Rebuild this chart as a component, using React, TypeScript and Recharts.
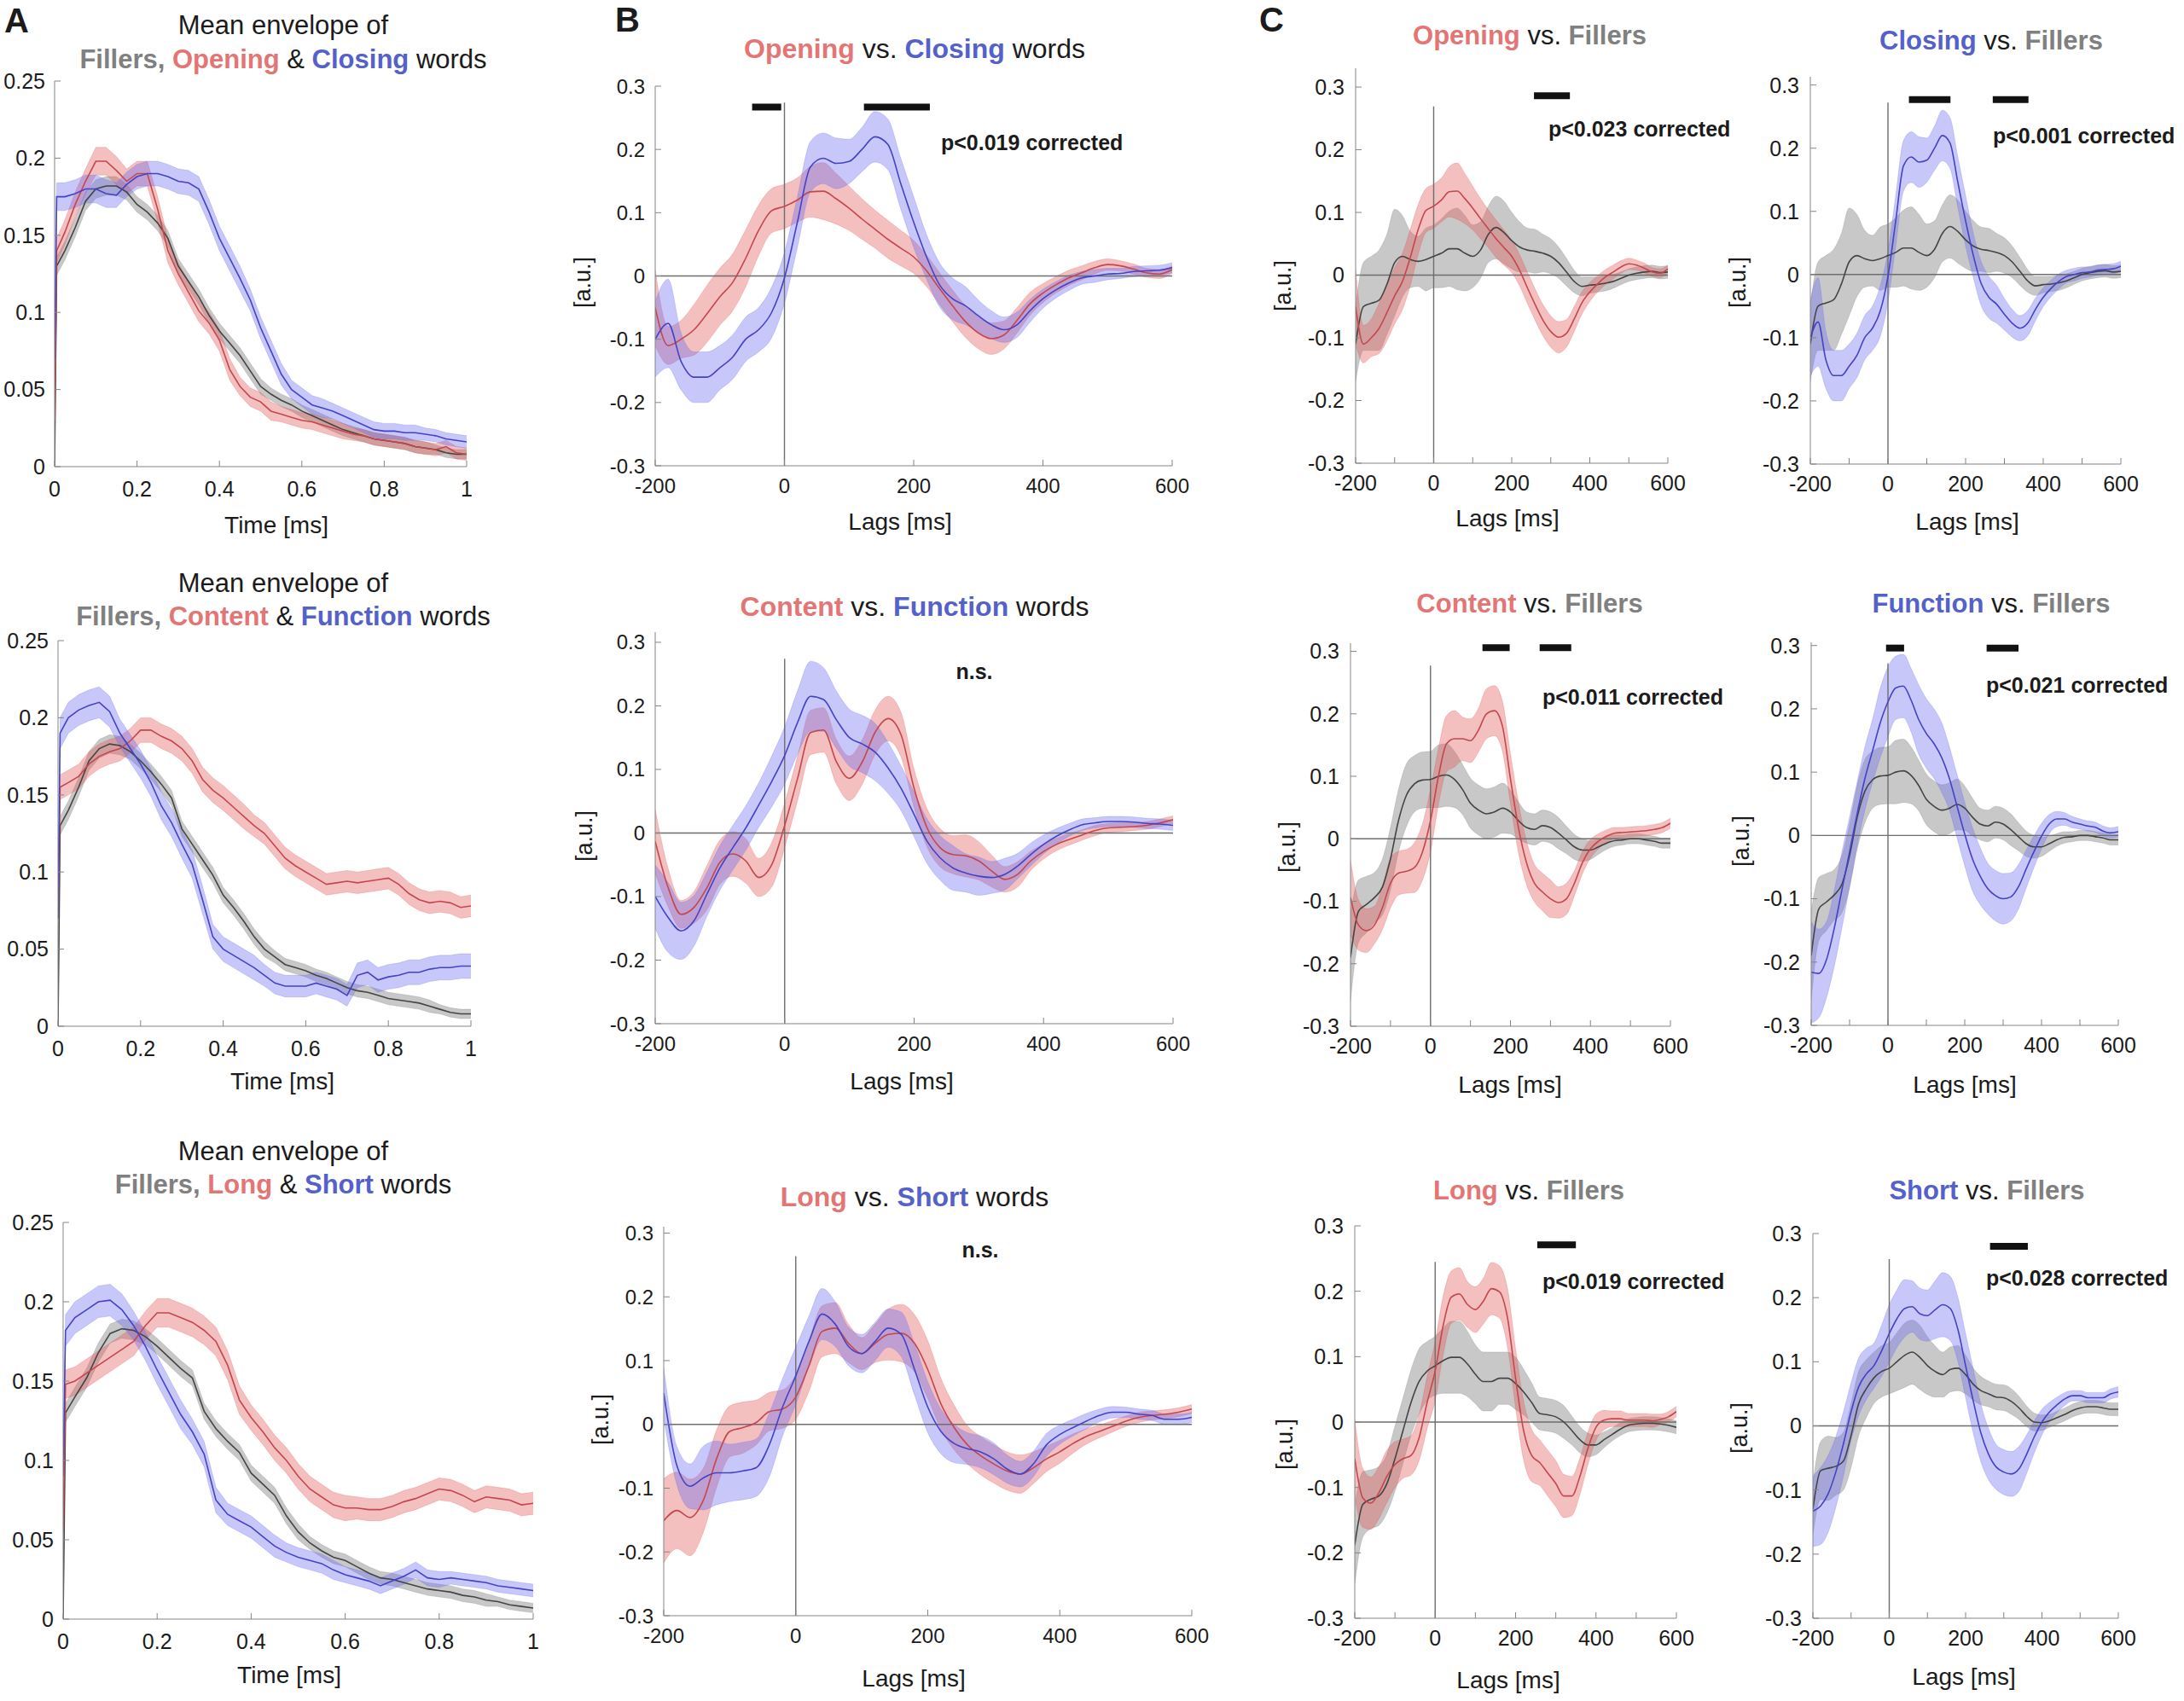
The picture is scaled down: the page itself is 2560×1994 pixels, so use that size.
import React from "react";
import { ComposedChart, Area, Line, XAxis, YAxis, ReferenceLine } from "recharts";

// x grids
const TIMES = [0, 0.005, 0.025, 0.05, 0.075, 0.1, 0.125, 0.15, 0.175, 0.2, 0.225, 0.25, 0.275, 0.3, 0.325, 0.35, 0.375, 0.4, 0.425, 0.45, 0.475, 0.5, 0.525, 0.55, 0.575, 0.6, 0.625, 0.65, 0.675, 0.7, 0.725, 0.75, 0.775, 0.8, 0.825, 0.85, 0.875, 0.9, 0.925, 0.95, 0.975, 1];
const LAGS = [-200, -180, -160, -140, -120, -100, -80, -60, -40, -20, 0, 20, 40, 60, 80, 100, 120, 140, 160, 180, 200, 220, 240, 260, 280, 300, 320, 340, 360, 380, 400, 420, 440, 460, 480, 500, 520, 540, 560, 580, 600];

// tick labels
const ENV_X_TICKS = [0, 0.2, 0.4, 0.6, 0.8, 1];
const ENV_Y_TICKS = [0, 0.05, 0.1, 0.15, 0.2, 0.25];
const LAG_X_TICKS = [-200, 0, 200, 400, 600];
const LAG_X_TICKS_C = [-200, -100, 0, 100, 200, 300, 400, 500, 600];
const LAG_Y_TICKS = [-0.3, -0.2, -0.1, 0, 0.1, 0.2, 0.3];

// A: mean envelopes
const ENV_FILL1 = [0, 0.13, 0.14, 0.155, 0.172, 0.18, 0.182, 0.182, 0.178, 0.17, 0.165, 0.158, 0.148, 0.13, 0.12, 0.11, 0.098, 0.088, 0.08, 0.072, 0.062, 0.052, 0.047, 0.043, 0.04, 0.036, 0.033, 0.03, 0.027, 0.024, 0.022, 0.02, 0.018, 0.017, 0.016, 0.015, 0.013, 0.012, 0.011, 0.009, 0.008, 0.008];
const ENV_OPEN = [0.03, 0.14, 0.152, 0.17, 0.185, 0.198, 0.198, 0.192, 0.185, 0.19, 0.19, 0.167, 0.14, 0.125, 0.113, 0.101, 0.093, 0.082, 0.063, 0.052, 0.045, 0.042, 0.036, 0.034, 0.032, 0.03, 0.029, 0.027, 0.025, 0.023, 0.021, 0.02, 0.018, 0.017, 0.016, 0.015, 0.013, 0.012, 0.011, 0.013, 0.009, 0.008];
const ENV_CLOSE = [0.07, 0.175, 0.175, 0.177, 0.18, 0.18, 0.177, 0.176, 0.183, 0.188, 0.19, 0.19, 0.188, 0.185, 0.184, 0.18, 0.165, 0.148, 0.135, 0.122, 0.108, 0.09, 0.075, 0.06, 0.05, 0.045, 0.04, 0.038, 0.036, 0.033, 0.03, 0.027, 0.024, 0.023, 0.023, 0.022, 0.022, 0.021, 0.02, 0.018, 0.017, 0.016];
const ENV_FILL2 = [0, 0.13, 0.14, 0.155, 0.172, 0.18, 0.183, 0.182, 0.178, 0.172, 0.165, 0.157, 0.148, 0.128, 0.118, 0.108, 0.098, 0.085, 0.077, 0.068, 0.058, 0.05, 0.045, 0.04, 0.038, 0.036, 0.033, 0.031, 0.028, 0.025, 0.023, 0.022, 0.02, 0.018, 0.017, 0.016, 0.015, 0.013, 0.011, 0.009, 0.008, 0.008];
const ENV_CONTENT = [0.07, 0.155, 0.158, 0.162, 0.17, 0.175, 0.178, 0.18, 0.185, 0.192, 0.192, 0.188, 0.185, 0.18, 0.172, 0.16, 0.153, 0.148, 0.142, 0.136, 0.13, 0.125, 0.117, 0.109, 0.104, 0.1, 0.096, 0.092, 0.093, 0.094, 0.093, 0.094, 0.095, 0.096, 0.092, 0.086, 0.082, 0.08, 0.081, 0.08, 0.077, 0.078];
const ENV_FUNCTION = [0.07, 0.19, 0.2, 0.205, 0.208, 0.21, 0.204, 0.19, 0.18, 0.17, 0.158, 0.143, 0.132, 0.118, 0.105, 0.082, 0.058, 0.05, 0.046, 0.042, 0.038, 0.033, 0.028, 0.026, 0.026, 0.026, 0.028, 0.026, 0.024, 0.02, 0.033, 0.035, 0.03, 0.032, 0.033, 0.035, 0.035, 0.037, 0.038, 0.038, 0.039, 0.039];
const ENV_FILL3 = [0, 0.13, 0.14, 0.152, 0.168, 0.18, 0.183, 0.182, 0.178, 0.172, 0.165, 0.158, 0.152, 0.131, 0.12, 0.112, 0.105, 0.092, 0.085, 0.078, 0.065, 0.055, 0.048, 0.043, 0.039, 0.037, 0.033, 0.029, 0.026, 0.025, 0.023, 0.021, 0.019, 0.018, 0.017, 0.015, 0.014, 0.012, 0.011, 0.009, 0.008, 0.007];
const ENV_LONG = [0.055, 0.148, 0.15, 0.155, 0.16, 0.165, 0.17, 0.175, 0.185, 0.193, 0.193, 0.19, 0.187, 0.182, 0.175, 0.16, 0.138, 0.127, 0.118, 0.108, 0.1, 0.09, 0.082, 0.077, 0.072, 0.07, 0.07, 0.069, 0.069, 0.071, 0.074, 0.076, 0.079, 0.082, 0.081, 0.078, 0.074, 0.077, 0.076, 0.075, 0.072, 0.073];
const ENV_SHORT = [0.09, 0.182, 0.19, 0.195, 0.2, 0.201, 0.195, 0.185, 0.172, 0.157, 0.143, 0.129, 0.118, 0.104, 0.075, 0.066, 0.062, 0.058, 0.052, 0.046, 0.042, 0.039, 0.037, 0.035, 0.031, 0.028, 0.026, 0.024, 0.021, 0.024, 0.027, 0.031, 0.026, 0.025, 0.026, 0.025, 0.024, 0.023, 0.021, 0.02, 0.019, 0.018];

// A: band half-widths
const ENV_FILL_ERR = [0, 0.006, 0.006, 0.006, 0.006, 0.006, 0.006, 0.006, 0.005, 0.005, 0.005, 0.005, 0.005, 0.005, 0.005, 0.005, 0.005, 0.005, 0.005, 0.005, 0.005, 0.005, 0.004, 0.004, 0.004, 0.004, 0.004, 0.004, 0.004, 0.004, 0.004, 0.004, 0.004, 0.004, 0.004, 0.004, 0.004, 0.004, 0.003, 0.003, 0.003, 0.003];
const ENV_OPEN_ERR = [0, 0.008, 0.008, 0.008, 0.008, 0.009, 0.009, 0.009, 0.008, 0.008, 0.008, 0.008, 0.008, 0.007, 0.007, 0.007, 0.007, 0.007, 0.007, 0.006, 0.006, 0.006, 0.006, 0.005, 0.005, 0.005, 0.005, 0.005, 0.005, 0.005, 0.004, 0.004, 0.004, 0.004, 0.004, 0.004, 0.004, 0.004, 0.004, 0.004, 0.004, 0.004];
const ENV_CLOSE_ERR = [0, 0.009, 0.009, 0.009, 0.009, 0.009, 0.009, 0.008, 0.008, 0.008, 0.008, 0.008, 0.008, 0.008, 0.008, 0.008, 0.008, 0.008, 0.008, 0.008, 0.007, 0.007, 0.007, 0.007, 0.006, 0.006, 0.006, 0.006, 0.005, 0.005, 0.005, 0.005, 0.005, 0.005, 0.005, 0.005, 0.005, 0.004, 0.004, 0.004, 0.004, 0.004];
const ENV_CONTENT_ERR = [0, 0.008, 0.008, 0.008, 0.008, 0.008, 0.008, 0.008, 0.008, 0.008, 0.008, 0.008, 0.008, 0.008, 0.008, 0.008, 0.008, 0.008, 0.008, 0.008, 0.007, 0.007, 0.007, 0.007, 0.007, 0.007, 0.007, 0.007, 0.007, 0.007, 0.007, 0.007, 0.007, 0.007, 0.007, 0.007, 0.007, 0.007, 0.007, 0.007, 0.007, 0.007];
const ENV_FUNCTION_ERR = [0, 0.01, 0.01, 0.01, 0.01, 0.01, 0.01, 0.009, 0.009, 0.009, 0.009, 0.009, 0.009, 0.009, 0.009, 0.009, 0.008, 0.008, 0.008, 0.008, 0.008, 0.007, 0.007, 0.007, 0.007, 0.007, 0.007, 0.007, 0.007, 0.007, 0.008, 0.008, 0.008, 0.008, 0.008, 0.008, 0.008, 0.008, 0.008, 0.008, 0.008, 0.008];
const ENV_LONG_ERR = [0, 0.009, 0.009, 0.009, 0.009, 0.009, 0.009, 0.009, 0.009, 0.009, 0.009, 0.009, 0.009, 0.009, 0.009, 0.009, 0.009, 0.008, 0.008, 0.008, 0.008, 0.008, 0.008, 0.008, 0.008, 0.008, 0.007, 0.007, 0.007, 0.007, 0.007, 0.007, 0.007, 0.007, 0.007, 0.007, 0.007, 0.007, 0.007, 0.007, 0.007, 0.007];
const ENV_SHORT_ERR = [0, 0.01, 0.01, 0.01, 0.01, 0.01, 0.01, 0.009, 0.009, 0.009, 0.009, 0.009, 0.008, 0.008, 0.008, 0.007, 0.007, 0.007, 0.007, 0.007, 0.006, 0.006, 0.006, 0.006, 0.006, 0.005, 0.005, 0.005, 0.005, 0.005, 0.005, 0.005, 0.005, 0.005, 0.004, 0.004, 0.004, 0.004, 0.004, 0.004, 0.004, 0.004];

// B / C: TRF means and band half-widths
const OPEN_M = [-0.05, -0.11, -0.1, -0.085, -0.06, -0.033, -0.01, 0.028, 0.072, 0.103, 0.11, 0.12, 0.133, 0.134, 0.122, 0.107, 0.09, 0.074, 0.058, 0.044, 0.03, 0.008, -0.02, -0.047, -0.072, -0.09, -0.099, -0.093, -0.07, -0.044, -0.027, -0.014, -0.003, 0.005, 0.013, 0.018, 0.016, 0.011, 0.005, 0.003, 0.01];
const OPEN_E = [0.06, 0.03, 0.03, 0.04, 0.045, 0.045, 0.045, 0.045, 0.04, 0.035, 0.035, 0.035, 0.04, 0.045, 0.04, 0.035, 0.032, 0.03, 0.03, 0.028, 0.026, 0.025, 0.025, 0.025, 0.025, 0.025, 0.025, 0.022, 0.02, 0.018, 0.015, 0.013, 0.012, 0.011, 0.01, 0.009, 0.008, 0.008, 0.007, 0.007, 0.006];
const CLOSE_M = [-0.1, -0.075, -0.135, -0.16, -0.16, -0.145, -0.128, -0.1, -0.085, -0.058, -0.003, 0.085, 0.172, 0.186, 0.178, 0.181, 0.2, 0.22, 0.208, 0.146, 0.085, 0.03, -0.014, -0.036, -0.047, -0.063, -0.077, -0.085, -0.077, -0.055, -0.036, -0.022, -0.011, -0.003, 0, 0.003, 0.004, 0.007, 0.008, 0.009, 0.013];
const CLOSE_E = [0.06, 0.07, 0.045, 0.04, 0.04, 0.035, 0.035, 0.035, 0.035, 0.04, 0.04, 0.04, 0.04, 0.04, 0.04, 0.035, 0.035, 0.04, 0.04, 0.04, 0.04, 0.035, 0.035, 0.033, 0.03, 0.025, 0.022, 0.02, 0.02, 0.018, 0.015, 0.013, 0.012, 0.01, 0.01, 0.009, 0.008, 0.008, 0.008, 0.008, 0.008];
const FILL1_M = [-0.11, -0.05, -0.045, -0.04, -0.015, 0.02, 0.03, 0.025, 0.022, 0.025, 0.03, 0.035, 0.042, 0.042, 0.035, 0.03, 0.04, 0.065, 0.076, 0.068, 0.055, 0.045, 0.04, 0.038, 0.035, 0.03, 0.02, 0.005, -0.01, -0.018, -0.016, -0.015, -0.013, -0.01, -0.005, 0, 0.003, 0.005, 0.006, 0.004, 0.005];
const FILL1_E = [0.06, 0.07, 0.075, 0.08, 0.08, 0.085, 0.065, 0.045, 0.04, 0.05, 0.05, 0.055, 0.06, 0.065, 0.06, 0.05, 0.045, 0.045, 0.05, 0.05, 0.045, 0.04, 0.035, 0.035, 0.03, 0.028, 0.025, 0.022, 0.018, 0.015, 0.013, 0.012, 0.012, 0.011, 0.01, 0.01, 0.01, 0.01, 0.01, 0.01, 0.01];

const CONTENT_B_M = [-0.013, -0.086, -0.128, -0.117, -0.086, -0.046, -0.033, -0.044, -0.07, -0.05, 0.012, 0.086, 0.158, 0.162, 0.112, 0.086, 0.112, 0.159, 0.18, 0.154, 0.07, 0.008, -0.023, -0.034, -0.036, -0.044, -0.06, -0.073, -0.065, -0.044, -0.029, -0.018, -0.01, -0.003, 0.004, 0.008, 0.009, 0.01, 0.012, 0.016, 0.021];
const CONTENT_B_E = [0.05, 0.03, 0.022, 0.025, 0.035, 0.035, 0.035, 0.035, 0.03, 0.035, 0.035, 0.035, 0.035, 0.035, 0.035, 0.035, 0.035, 0.035, 0.035, 0.035, 0.03, 0.03, 0.03, 0.03, 0.033, 0.03, 0.025, 0.02, 0.02, 0.015, 0.012, 0.01, 0.009, 0.008, 0.008, 0.007, 0.007, 0.006, 0.006, 0.006, 0.006];
const FUNCTION_B_M = [-0.1, -0.133, -0.154, -0.138, -0.096, -0.055, -0.023, 0.008, 0.044, 0.081, 0.122, 0.174, 0.215, 0.21, 0.178, 0.15, 0.14, 0.127, 0.102, 0.07, 0.029, -0.013, -0.039, -0.055, -0.063, -0.068, -0.07, -0.065, -0.052, -0.034, -0.018, -0.005, 0.005, 0.013, 0.016, 0.018, 0.018, 0.017, 0.015, 0.014, 0.012];
const FUNCTION_B_E = [0.05, 0.055, 0.045, 0.04, 0.035, 0.035, 0.035, 0.035, 0.035, 0.04, 0.045, 0.05, 0.055, 0.05, 0.045, 0.045, 0.045, 0.045, 0.04, 0.035, 0.035, 0.035, 0.035, 0.035, 0.03, 0.03, 0.025, 0.025, 0.02, 0.018, 0.015, 0.012, 0.01, 0.009, 0.008, 0.008, 0.008, 0.008, 0.008, 0.008, 0.008];

const LONG_B_M = [-0.151, -0.135, -0.146, -0.119, -0.054, -0.011, -0.005, 0.003, 0.02, 0.024, 0.043, 0.092, 0.146, 0.151, 0.127, 0.111, 0.127, 0.141, 0.143, 0.127, 0.086, 0.032, -0.005, -0.032, -0.049, -0.062, -0.073, -0.078, -0.068, -0.054, -0.043, -0.03, -0.019, -0.011, -0.003, 0.005, 0.011, 0.014, 0.016, 0.019, 0.024];
const LONG_B_E = [0.066, 0.06, 0.06, 0.05, 0.045, 0.04, 0.04, 0.035, 0.03, 0.03, 0.035, 0.04, 0.04, 0.04, 0.03, 0.025, 0.03, 0.04, 0.045, 0.045, 0.045, 0.04, 0.035, 0.03, 0.03, 0.03, 0.03, 0.03, 0.025, 0.02, 0.018, 0.015, 0.012, 0.01, 0.009, 0.008, 0.008, 0.007, 0.007, 0.007, 0.007];
const SHORT_B_M = [0.049, -0.065, -0.097, -0.084, -0.076, -0.076, -0.073, -0.068, -0.032, 0.027, 0.076, 0.13, 0.173, 0.157, 0.122, 0.111, 0.13, 0.151, 0.141, 0.086, 0.027, -0.011, -0.03, -0.038, -0.043, -0.054, -0.07, -0.078, -0.062, -0.032, -0.016, -0.005, 0.005, 0.014, 0.019, 0.019, 0.016, 0.014, 0.008, 0.008, 0.011];
const SHORT_B_E = [0.04, 0.03, 0.035, 0.05, 0.05, 0.045, 0.045, 0.045, 0.05, 0.045, 0.045, 0.04, 0.04, 0.035, 0.03, 0.03, 0.03, 0.03, 0.035, 0.04, 0.04, 0.035, 0.03, 0.025, 0.025, 0.025, 0.022, 0.02, 0.02, 0.018, 0.015, 0.013, 0.012, 0.01, 0.009, 0.008, 0.008, 0.008, 0.008, 0.008, 0.008];

const CONTENT_C_M = [-0.094, -0.138, -0.147, -0.138, -0.11, -0.071, -0.055, -0.052, -0.046, -0.021, 0.029, 0.1, 0.152, 0.16, 0.16, 0.157, 0.174, 0.2, 0.205, 0.18, 0.096, 0.018, -0.038, -0.071, -0.085, -0.096, -0.102, -0.096, -0.071, -0.038, -0.016, -0.004, 0.004, 0.009, 0.01, 0.011, 0.012, 0.013, 0.015, 0.018, 0.025];
const CONTENT_C_E = [0.06, 0.04, 0.035, 0.03, 0.035, 0.04, 0.035, 0.035, 0.04, 0.045, 0.05, 0.045, 0.045, 0.045, 0.035, 0.035, 0.035, 0.04, 0.04, 0.04, 0.04, 0.04, 0.035, 0.03, 0.03, 0.03, 0.025, 0.025, 0.02, 0.018, 0.015, 0.012, 0.01, 0.009, 0.008, 0.008, 0.008, 0.008, 0.008, 0.008, 0.008];
const FUNCTION_C_M = [-0.216, -0.218, -0.196, -0.147, -0.086, -0.026, 0.035, 0.09, 0.134, 0.178, 0.211, 0.233, 0.236, 0.214, 0.183, 0.161, 0.145, 0.123, 0.09, 0.046, 0.002, -0.037, -0.064, -0.084, -0.095, -0.1, -0.097, -0.081, -0.053, -0.026, -0.001, 0.018, 0.026, 0.026, 0.021, 0.018, 0.015, 0.013, 0.007, 0.004, 0.006];
const FUNCTION_C_E = [0.08, 0.07, 0.06, 0.06, 0.06, 0.055, 0.05, 0.05, 0.05, 0.055, 0.055, 0.05, 0.05, 0.05, 0.055, 0.055, 0.055, 0.055, 0.05, 0.05, 0.05, 0.05, 0.045, 0.04, 0.04, 0.04, 0.038, 0.035, 0.03, 0.025, 0.02, 0.015, 0.012, 0.01, 0.009, 0.008, 0.008, 0.008, 0.008, 0.008, 0.008];
const FILL2_M = [-0.19, -0.116, -0.105, -0.094, -0.077, -0.032, 0.029, 0.07, 0.088, 0.094, 0.095, 0.1, 0.102, 0.095, 0.079, 0.057, 0.046, 0.04, 0.043, 0.049, 0.043, 0.029, 0.018, 0.015, 0.021, 0.018, 0.009, -0.002, -0.013, -0.018, -0.018, -0.013, -0.007, -0.003, -0.002, 0, 0, -0.002, -0.004, -0.007, -0.007];
const FILL2_E = [0.07, 0.05, 0.045, 0.04, 0.045, 0.05, 0.05, 0.05, 0.045, 0.045, 0.045, 0.05, 0.05, 0.045, 0.04, 0.04, 0.04, 0.04, 0.04, 0.04, 0.035, 0.03, 0.025, 0.025, 0.025, 0.025, 0.025, 0.022, 0.02, 0.018, 0.015, 0.012, 0.01, 0.009, 0.008, 0.008, 0.008, 0.008, 0.008, 0.008, 0.008];

const LONG_C_M = [-0.056, -0.116, -0.124, -0.108, -0.083, -0.065, -0.056, -0.051, -0.024, 0.03, 0.078, 0.148, 0.191, 0.196, 0.18, 0.172, 0.185, 0.204, 0.199, 0.159, 0.067, -0.013, -0.051, -0.062, -0.078, -0.094, -0.113, -0.113, -0.083, -0.04, -0.008, 0.003, 0.005, 0.005, 0.003, 0.003, 0.003, 0.002, 0.004, 0.008, 0.016];
const LONG_C_E = [0.06, 0.045, 0.04, 0.04, 0.04, 0.035, 0.03, 0.03, 0.035, 0.04, 0.045, 0.045, 0.04, 0.04, 0.035, 0.035, 0.035, 0.04, 0.04, 0.045, 0.045, 0.045, 0.04, 0.035, 0.035, 0.035, 0.033, 0.03, 0.028, 0.025, 0.02, 0.015, 0.012, 0.012, 0.01, 0.01, 0.01, 0.01, 0.008, 0.008, 0.008];
const FILL3A_M = [-0.188, -0.126, -0.118, -0.113, -0.094, -0.056, -0.013, 0.03, 0.062, 0.078, 0.086, 0.094, 0.099, 0.099, 0.089, 0.073, 0.062, 0.062, 0.067, 0.067, 0.059, 0.046, 0.03, 0.013, 0.011, 0.008, 0, -0.013, -0.027, -0.035, -0.035, -0.027, -0.019, -0.011, -0.005, -0.003, -0.002, -0.002, -0.003, -0.005, -0.008];
const FILL3A_E = [0.06, 0.05, 0.045, 0.045, 0.045, 0.05, 0.05, 0.05, 0.05, 0.045, 0.045, 0.05, 0.055, 0.055, 0.05, 0.045, 0.045, 0.045, 0.04, 0.04, 0.04, 0.035, 0.03, 0.025, 0.025, 0.025, 0.025, 0.022, 0.02, 0.018, 0.015, 0.012, 0.01, 0.01, 0.01, 0.01, 0.01, 0.01, 0.01, 0.01, 0.01];
const SHORT_C_M = [-0.133, -0.125, -0.106, -0.072, -0.028, 0.022, 0.061, 0.081, 0.094, 0.117, 0.144, 0.167, 0.183, 0.186, 0.175, 0.172, 0.181, 0.189, 0.183, 0.15, 0.094, 0.039, -0.011, -0.044, -0.064, -0.072, -0.075, -0.067, -0.044, -0.017, 0.006, 0.022, 0.033, 0.042, 0.047, 0.047, 0.044, 0.044, 0.044, 0.05, 0.053];
const SHORT_C_E = [0.055, 0.06, 0.06, 0.055, 0.05, 0.045, 0.045, 0.04, 0.035, 0.04, 0.045, 0.045, 0.045, 0.04, 0.04, 0.04, 0.045, 0.05, 0.05, 0.05, 0.05, 0.05, 0.045, 0.04, 0.035, 0.035, 0.035, 0.035, 0.03, 0.025, 0.02, 0.015, 0.012, 0.01, 0.008, 0.008, 0.008, 0.008, 0.008, 0.008, 0.008];
const FILL3B_M = [-0.13, -0.07, -0.066, -0.063, -0.055, -0.015, 0.035, 0.058, 0.075, 0.085, 0.09, 0.1, 0.11, 0.115, 0.107, 0.094, 0.085, 0.08, 0.088, 0.09, 0.08, 0.065, 0.055, 0.05, 0.045, 0.044, 0.038, 0.028, 0.015, 0.006, 0.005, 0.008, 0.013, 0.018, 0.024, 0.028, 0.03, 0.03, 0.028, 0.026, 0.026];
const FILL3B_E = [0.04, 0.045, 0.05, 0.045, 0.045, 0.05, 0.05, 0.045, 0.04, 0.04, 0.04, 0.045, 0.05, 0.05, 0.05, 0.045, 0.04, 0.035, 0.035, 0.035, 0.03, 0.025, 0.022, 0.02, 0.02, 0.02, 0.02, 0.018, 0.016, 0.014, 0.012, 0.01, 0.01, 0.01, 0.01, 0.01, 0.01, 0.01, 0.01, 0.01, 0.01];

// significant intervals [from, to] in ms
const SIG_OPEN_CLOSE = [[-50, -5], [123, 225]];
const SIG_OPEN_FILL = [[257, 349]];
const SIG_CLOSE_FILL = [[54, 161], [270, 362]];
const SIG_CONTENT_FILL = [[130, 198], [273, 352]];
const SIG_FUNCTION_FILL = [[-5, 42], [257, 340]];
const SIG_LONG_FILL = [[254, 350]];
const SIG_SHORT_FILL = [[264, 363]];

const FONT = "'Liberation Sans', Arial, Helvetica, sans-serif";
const INK = "#1b1b1b";
const AXIS = "#858585";
const ZERO = "#6e6e6e";
const TONE: Record<string, { line: string; fill: string; text: string; op: number }> = {
  red: { line: "#c4474e", fill: "#e05757", text: "#e37575", op: 0.38 },
  blue: { line: "#4343c4", fill: "#6b6bf0", text: "#5461c9", op: 0.38 },
  gray: { line: "#444444", fill: "#7b7b7b", text: "#808080", op: 0.42 },
};

type Curve = { name: string; tone: string; mean: number[]; err: number[] };
const cv = (name: string, tone: string, mean: number[], err: number[]): Curve => ({ name, tone, mean, err });

type Box = { l: number; t: number; r: number; b: number };
type PanelSpec = {
  kind: "env" | "lag" | "lagC";
  box: Box;
  yTop?: number;
  vTop?: number;
  sig?: number[][];
  sigY?: number;
  curves: Curve[];
};

const YW = 90;
const XH = 60;
const MT = 20;
const MR = 30;

function Panel({ spec }: { spec: PanelSpec }) {
  const { kind, box, curves } = spec;
  const env = kind === "env";
  const xs = env ? TIMES : LAGS;
  const data = xs.map((x, i) => {
    const row: Record<string, any> = { x };
    curves.forEach((c) => {
      row[c.name] = c.mean[i];
      row[c.name + "Band"] = [c.mean[i] - c.err[i], c.mean[i] + c.err[i]];
    });
    return row;
  });
  const fs = kind === "lag" ? 24 : kind === "env" ? 25 : 25;
  const tick = { fontSize: fs, fill: INK, fontFamily: FONT };
  const curveType = env ? "linear" : "monotone";
  const w = box.r - box.l + YW + MR;
  const h = box.b - box.t + MT + XH;
  const xMargin = env ? 24 : kind === "lag" ? 22 : 21;
  const yMargin = env ? 18 : kind === "lag" ? 19 : 20;
  return (
    <div style={{ position: "absolute", left: box.l - YW, top: box.t - MT }}>
      <ComposedChart width={w} height={h} data={data} margin={{ top: MT, right: MR, bottom: 0, left: 0 }}>
        <XAxis
          type="number"
          dataKey="x"
          domain={env ? [0, 1] : [-200, 600]}
          ticks={env ? ENV_X_TICKS : kind === "lagC" ? LAG_X_TICKS_C : LAG_X_TICKS}
          tickFormatter={(v: number) => (kind === "lagC" && v % 200 !== 0 ? "" : String(v))}
          interval={0}
          allowDataOverflow
          height={XH}
          stroke={AXIS}
          tick={tick}
          tickSize={-7}
          tickMargin={xMargin}
        />
        <YAxis
          type="number"
          domain={env ? [0, 0.25] : [-0.3, spec.yTop ?? 0.3]}
          ticks={env ? ENV_Y_TICKS : LAG_Y_TICKS}
          interval={0}
          allowDataOverflow
          width={YW}
          stroke={AXIS}
          tick={tick}
          tickSize={-7}
          tickMargin={yMargin}
        />
        {curves.map((c) => (
          <Area
            key={c.name + "Band"}
            dataKey={c.name + "Band"}
            type={curveType}
            stroke={TONE[c.tone].fill}
            strokeOpacity={0.25}
            strokeWidth={1}
            fill={TONE[c.tone].fill}
            fillOpacity={TONE[c.tone].op}
            dot={false}
            activeDot={false}
            isAnimationActive={false}
          />
        ))}
        {!env && <ReferenceLine y={0} stroke={ZERO} strokeWidth={1.4} />}
        {!env && spec.vTop !== undefined && (
          <ReferenceLine
            segment={[{ x: 0, y: spec.vTop }, { x: 0, y: -0.3 }]}
            stroke={ZERO}
            strokeWidth={1.4}
            ifOverflow="visible"
          />
        )}
        {curves.map((c) => (
          <Line
            key={c.name}
            dataKey={c.name}
            type={curveType}
            stroke={TONE[c.tone].line}
            strokeWidth={1.6}
            dot={false}
            activeDot={false}
            isAnimationActive={false}
          />
        ))}
        {(spec.sig ?? []).map(([a, b], i) => (
          <ReferenceLine
            key={"sig" + i}
            segment={[{ x: a, y: spec.sigY ?? 0.28 }, { x: b, y: spec.sigY ?? 0.28 }]}
            stroke="#111"
            strokeWidth={8}
            ifOverflow="visible"
          />
        ))}
      </ComposedChart>
    </div>
  );
}

const PANELS: PanelSpec[] = [
  { kind: "env", box: { l: 64, t: 95, r: 547, b: 547 }, curves: [cv("fill", "gray", ENV_FILL1, ENV_FILL_ERR), cv("open", "red", ENV_OPEN, ENV_OPEN_ERR), cv("close", "blue", ENV_CLOSE, ENV_CLOSE_ERR)] },
  { kind: "env", box: { l: 68, t: 751, r: 552, b: 1203 }, curves: [cv("fill", "gray", ENV_FILL2, ENV_FILL_ERR), cv("content", "red", ENV_CONTENT, ENV_CONTENT_ERR), cv("function", "blue", ENV_FUNCTION, ENV_FUNCTION_ERR)] },
  { kind: "env", box: { l: 74, t: 1433, r: 625, b: 1898 }, curves: [cv("fill", "gray", ENV_FILL3, ENV_FILL_ERR), cv("long", "red", ENV_LONG, ENV_LONG_ERR), cv("short", "blue", ENV_SHORT, ENV_SHORT_ERR)] },
  { kind: "lag", box: { l: 768, t: 101, r: 1374, b: 546 }, yTop: 0.3, vTop: 0.274, sig: SIG_OPEN_CLOSE, sigY: 0.267, curves: [cv("open", "red", OPEN_M, OPEN_E), cv("close", "blue", CLOSE_M, CLOSE_E)] },
  { kind: "lag", box: { l: 768, t: 741, r: 1375, b: 1200 }, yTop: 0.316, vTop: 0.274, curves: [cv("content", "red", CONTENT_B_M, CONTENT_B_E), cv("function", "blue", FUNCTION_B_M, FUNCTION_B_E)] },
  { kind: "lag", box: { l: 778, t: 1438, r: 1397, b: 1894 }, yTop: 0.31, vTop: 0.264, curves: [cv("long", "red", LONG_B_M, LONG_B_E), cv("short", "blue", SHORT_B_M, SHORT_B_E)] },
  { kind: "lagC", box: { l: 1589, t: 80, r: 1955, b: 543 }, yTop: 0.33, vTop: 0.269, sig: SIG_OPEN_FILL, sigY: 0.286, curves: [cv("fill", "gray", FILL1_M, FILL1_E), cv("open", "red", OPEN_M, OPEN_E)] },
  { kind: "lagC", box: { l: 2122, t: 90, r: 2486, b: 544 }, yTop: 0.313, vTop: 0.272, sig: SIG_CLOSE_FILL, sigY: 0.277, curves: [cv("fill", "gray", FILL1_M, FILL1_E), cv("close", "blue", CLOSE_M, CLOSE_E)] },
  { kind: "lagC", box: { l: 1583, t: 754, r: 1958, b: 1203 }, yTop: 0.313, vTop: 0.277, sig: SIG_CONTENT_FILL, sigY: 0.306, curves: [cv("fill", "gray", FILL2_M, FILL2_E), cv("content", "red", CONTENT_C_M, CONTENT_C_E)] },
  { kind: "lagC", box: { l: 2123, t: 753, r: 2483, b: 1202 }, yTop: 0.305, vTop: 0.272, sig: SIG_FUNCTION_FILL, sigY: 0.296, curves: [cv("fill", "gray", FILL2_M, FILL2_E), cv("function", "blue", FUNCTION_C_M, FUNCTION_C_E)] },
  { kind: "lagC", box: { l: 1588, t: 1437, r: 1965, b: 1897 }, yTop: 0.3, vTop: 0.245, sig: SIG_LONG_FILL, sigY: 0.271, curves: [cv("fill", "gray", FILL3A_M, FILL3A_E), cv("long", "red", LONG_C_M, LONG_C_E)] },
  { kind: "lagC", box: { l: 2125, t: 1446, r: 2483, b: 1897 }, yTop: 0.3, vTop: 0.26, sig: SIG_SHORT_FILL, sigY: 0.28, curves: [cv("fill", "gray", FILL3B_M, FILL3B_E), cv("short", "blue", SHORT_C_M, SHORT_C_E)] },
];

type Seg = [string, string?];

function Words({ segs }: { segs: Seg[] }) {
  return (
    <>
      {segs.map(([t, tone], i) => (
        <span key={i} style={{ color: tone ? TONE[tone].text : INK, fontWeight: tone ? 700 : 400, whiteSpace: "pre" }}>
          {t}
        </span>
      ))}
    </>
  );
}

function Txt({ x, y, size, children, weight = 400, anchor = "middle", rotate = false }: any) {
  const tx = anchor === "middle" ? "-50%" : anchor === "end" ? "-100%" : "0";
  return (
    <div
      style={{
        position: "absolute",
        left: x,
        top: y,
        transform: `translate(${tx}, -50%)${rotate ? " rotate(-90deg)" : ""}`,
        fontSize: size,
        lineHeight: 1,
        whiteSpace: "nowrap",
        fontFamily: FONT,
        fontWeight: weight,
        color: INK,
      }}
    >
      {children}
    </div>
  );
}

const envTitle = (a: string, b: string): Seg[] => [["Fillers,", "gray"], [" "], [a, "red"], [" & "], [b, "blue"], [" words"]];
const vsWords = (a: string, ta: string, b: string, tb: string): Seg[] => [[a, ta], [" vs. "], [b, tb], [" words"]];
const vsFill = (a: string, ta: string): Seg[] => [[a, ta], [" vs. "], ["Fillers", "gray"]];

export default function App() {
  return (
    <div style={{ position: "absolute", left: 0, top: 0, width: 2560, height: 1994, background: "#fff", overflow: "hidden", fontFamily: FONT }}>
      {PANELS.map((p, i) => (
        <Panel key={i} spec={p} />
      ))}

      <Txt x={5} y={24} size={40} weight={700} anchor="start">A</Txt>
      <Txt x={721} y={23} size={40} weight={700} anchor="start">B</Txt>
      <Txt x={1476} y={23} size={40} weight={700} anchor="start">C</Txt>

      <Txt x={332} y={29} size={31}>Mean envelope of</Txt>
      <Txt x={332} y={69} size={31}><Words segs={envTitle("Opening", "Closing")} /></Txt>
      <Txt x={332} y={683} size={31}>Mean envelope of</Txt>
      <Txt x={332} y={722} size={31}><Words segs={envTitle("Content", "Function")} /></Txt>
      <Txt x={332} y={1349} size={31}>Mean envelope of</Txt>
      <Txt x={332} y={1388} size={31}><Words segs={envTitle("Long", "Short")} /></Txt>

      <Txt x={1072} y={57} size={32}><Words segs={vsWords("Opening", "red", "Closing", "blue")} /></Txt>
      <Txt x={1072} y={711} size={32}><Words segs={vsWords("Content", "red", "Function", "blue")} /></Txt>
      <Txt x={1072} y={1403} size={32}><Words segs={vsWords("Long", "red", "Short", "blue")} /></Txt>

      <Txt x={1793} y={41} size={31}><Words segs={vsFill("Opening", "red")} /></Txt>
      <Txt x={2334} y={47} size={31}><Words segs={vsFill("Closing", "blue")} /></Txt>
      <Txt x={1793} y={707} size={31}><Words segs={vsFill("Content", "red")} /></Txt>
      <Txt x={2334} y={707} size={31}><Words segs={vsFill("Function", "blue")} /></Txt>
      <Txt x={1792} y={1395} size={31}><Words segs={vsFill("Long", "red")} /></Txt>
      <Txt x={2329} y={1395} size={31}><Words segs={vsFill("Short", "blue")} /></Txt>

      <Txt x={324} y={616} size={28}>Time [ms]</Txt>
      <Txt x={331} y={1268} size={28}>Time [ms]</Txt>
      <Txt x={339} y={1964} size={28}>Time [ms]</Txt>

      <Txt x={1055} y={612} size={28}>Lags [ms]</Txt>
      <Txt x={1057} y={1268} size={28}>Lags [ms]</Txt>
      <Txt x={1071} y={1968} size={28}>Lags [ms]</Txt>
      <Txt x={1767} y={608} size={28}>Lags [ms]</Txt>
      <Txt x={2306} y={612} size={28}>Lags [ms]</Txt>
      <Txt x={1770} y={1272} size={28}>Lags [ms]</Txt>
      <Txt x={2303} y={1272} size={28}>Lags [ms]</Txt>
      <Txt x={1768} y={1970} size={28}>Lags [ms]</Txt>
      <Txt x={2302} y={1966} size={28}>Lags [ms]</Txt>

      <Txt x={683} y={331} size={27} rotate>[a.u.]</Txt>
      <Txt x={685} y={980} size={27} rotate>[a.u.]</Txt>
      <Txt x={704} y={1664} size={27} rotate>[a.u.]</Txt>
      <Txt x={1504} y={335} size={27} rotate>[a.u.]</Txt>
      <Txt x={2037} y={331} size={27} rotate>[a.u.]</Txt>
      <Txt x={1509} y={993} size={27} rotate>[a.u.]</Txt>
      <Txt x={2041} y={986} size={27} rotate>[a.u.]</Txt>
      <Txt x={1506} y={1693} size={27} rotate>[a.u.]</Txt>
      <Txt x={2039} y={1674} size={27} rotate>[a.u.]</Txt>

      <Txt x={1103} y={167} size={25} weight={700} anchor="start">p&lt;0.019 corrected</Txt>
      <Txt x={1815} y={151} size={25} weight={700} anchor="start">p&lt;0.023 corrected</Txt>
      <Txt x={2336} y={159} size={25} weight={700} anchor="start">p&lt;0.001 corrected</Txt>
      <Txt x={1808} y={817} size={25} weight={700} anchor="start">p&lt;0.011 corrected</Txt>
      <Txt x={2328} y={803} size={25} weight={700} anchor="start">p&lt;0.021 corrected</Txt>
      <Txt x={1808} y={1502} size={25} weight={700} anchor="start">p&lt;0.019 corrected</Txt>
      <Txt x={2328} y={1498} size={25} weight={700} anchor="start">p&lt;0.028 corrected</Txt>
      <Txt x={1142} y={787} size={25} weight={700}>n.s.</Txt>
      <Txt x={1149} y={1465} size={25} weight={700}>n.s.</Txt>
    </div>
  );
}
